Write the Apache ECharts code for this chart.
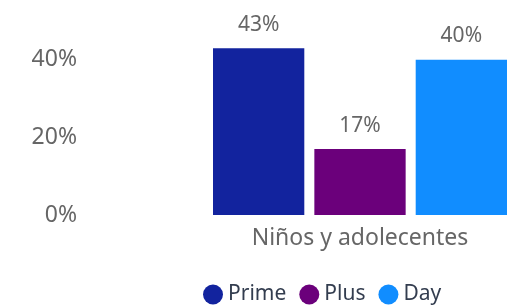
<!DOCTYPE html>
<html>
<head>
<meta charset="utf-8">
<script src="https://cdn.jsdelivr.net/npm/echarts@6/dist/echarts.min.js"></script>
<style>
  html, body { margin: 0; padding: 0; background: #fff; }
  #chart { width: 519px; height: 308px; }
</style>
</head>
<body>
<div id="chart"></div>
<script>
const categories = ["Niños y adolecentes"];
const seriesNames = ["Prime", "Plus", "Day"];
const prime = [43];
const plus = [17];
const day = [40];
const colors = ["#12239E", "#6B007B", "#118DFF"];

const font = "'Noto Sans', 'Open Sans', sans-serif";
const values = [prime, plus, day];

const chart = echarts.init(document.getElementById("chart"));
chart.setOption({
    animation: false,
    textStyle: { fontFamily: font },
    grid: { left: 213, right: 12, top: 21, bottom: 93 },
    legend: {
        top: 284,
        left: 203,
        padding: 0,
        icon: "circle",
        itemWidth: 20,
        itemHeight: 20,
        itemGap: 13,
        textStyle: { fontSize: 21, color: "#333d4f", fontFamily: font },
        data: seriesNames
    },
    xAxis: {
        type: "category",
        data: categories,
        axisLine: { show: false },
        axisTick: { show: false },
        axisLabel: { fontSize: 23, color: "#666666", margin: 12 }
    },
    yAxis: {
        type: "value",
        min: 0,
        max: 50,
        interval: 20,
        splitLine: { show: false },
        axisLabel: {
            fontSize: 23,
            color: "#666666",
            margin: 136,
            showMaxLabel: false,
            formatter: v => v + "%"
        }
    },
    series: seriesNames.map((name, i) => ({
        name: name,
        type: "bar",
        data: values[i],
        barCategoryGap: "0%",
        barGap: "11%",
        itemStyle: { color: colors[i] },
        label: {
            show: true,
            position: "top",
            distance: 13,
            fontSize: 21,
            color: "#666666",
            formatter: p => p.value + "%"
        }
    }))
});
</script>
</body>
</html>
